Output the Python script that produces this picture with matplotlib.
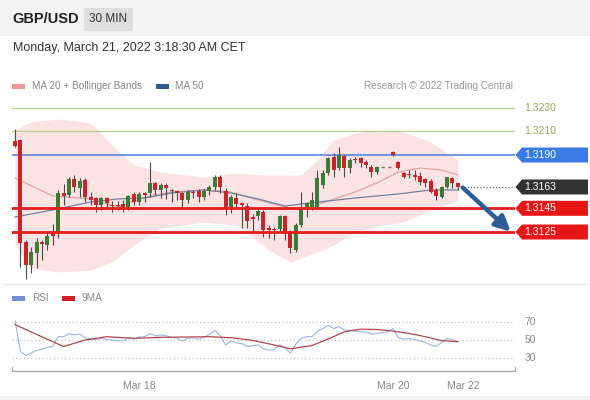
import numpy as np
import matplotlib
matplotlib.use("Agg")
import matplotlib.pyplot as plt
from matplotlib.patches import Rectangle, Polygon, FancyBboxPatch
from matplotlib.lines import Line2D

plt.rcParams['font.family'] = ['Liberation Sans', 'DejaVu Sans']

nan = np.nan
# ---------------- data ----------------
opens = [1.32018, 1.32027, 1.31166, 1.30971, 1.31073, 1.31166, 1.31140, 1.31242, 1.31242, 1.31579,
         1.31562, 1.31697, 1.31621, 1.31689, 1.31545, 1.31537, 1.31478, 1.31537, 1.31478, 1.31478,
         1.31486, 1.31461, 1.31571, 1.31503, 1.31579, 1.31579, 1.31664, 1.31605, 1.31647, 1.31605,
         1.31596, 1.31579, 1.31520, 1.31588, 1.31596, 1.31545, 1.31596, 1.31630, 1.31714, 1.31596,
         1.31461, 1.31537, 1.31495, 1.31469, 1.31377, 1.31385, 1.31419, 1.31284, 1.31275, 1.31275,
         1.31385, 1.31250, 1.31098, 1.31309, 1.31453, 1.31461, 1.31461, 1.31647, 1.31748, 1.31883,
         1.31790, 1.31892, 1.31790, 1.31866, 1.31875, 1.31841, 1.31799, 1.31756, nan, nan,
         1.31925, 1.31841, 1.31748, 1.31740, 1.31731, 1.31723, 1.31697, 1.31681, 1.31605, 1.31545,
         1.31630, 1.31706, 1.31664]
highs = [1.32120, 1.32035, 1.31182, 1.31123, 1.31199, 1.31182, 1.31250, 1.31317, 1.31605, 1.31655,
         1.31714, 1.31731, 1.31706, 1.31706, 1.31588, 1.31545, 1.31545, 1.31545, 1.31512, 1.31512,
         1.31520, 1.31562, 1.31588, 1.31588, 1.31588, 1.31841, 1.31672, 1.31664, 1.31664, 1.31613,
         1.31605, 1.31588, 1.31605, 1.31605, 1.31613, 1.31613, 1.31647, 1.31731, 1.31731, 1.31621,
         1.31562, 1.31579, 1.31503, 1.31495, 1.31402, 1.31453, 1.31436, 1.31309, 1.31292, 1.31393,
         1.31393, 1.31267, 1.31326, 1.31588, 1.31503, 1.31588, 1.31773, 1.31773, 1.31883, 1.31917,
         1.31968, 1.31900, 1.31875, 1.31883, 1.31883, 1.31858, 1.31816, 1.31807, nan, nan,
         1.31934, 1.31849, 1.31756, 1.31773, 1.31773, 1.31756, 1.31706, 1.31697, 1.31621, 1.31638,
         1.31714, 1.31714, 1.31664]
lows = [1.31968, 1.30955, 1.30853, 1.30904, 1.30946, 1.31014, 1.31098, 1.31140, 1.31199, 1.31478,
        1.31545, 1.31588, 1.31545, 1.31503, 1.31478, 1.31419, 1.31436, 1.31453, 1.31419, 1.31436,
        1.31419, 1.31436, 1.31478, 1.31478, 1.31503, 1.31545, 1.31562, 1.31537, 1.31529, 1.31503,
        1.31520, 1.31461, 1.31495, 1.31537, 1.31503, 1.31520, 1.31562, 1.31605, 1.31579, 1.31393,
        1.31410, 1.31461, 1.31284, 1.31284, 1.31258, 1.31351, 1.31208, 1.31199, 1.31182, 1.31250,
        1.31182, 1.31073, 1.31081, 1.31292, 1.31377, 1.31436, 1.31453, 1.31621, 1.31731, 1.31714,
        1.31773, 1.31714, 1.31748, 1.31832, 1.31799, 1.31790, 1.31714, 1.31740, nan, nan,
        1.31892, 1.31782, 1.31706, 1.31706, 1.31689, 1.31647, 1.31630, 1.31579, 1.31520, 1.31537,
        1.31621, 1.31621, 1.31605]
closes = [1.31976, 1.31157, 1.30971, 1.31081, 1.31166, 1.31149, 1.31216, 1.31216, 1.31579, 1.31554,
          1.31697, 1.31630, 1.31681, 1.31545, 1.31520, 1.31478, 1.31537, 1.31495, 1.31469, 1.31469,
          1.31461, 1.31554, 1.31503, 1.31571, 1.31562, 1.31664, 1.31605, 1.31647, 1.31621, 1.31596,
          1.31579, 1.31520, 1.31588, 1.31579, 1.31545, 1.31596, 1.31630, 1.31714, 1.31630, 1.31453,
          1.31545, 1.31486, 1.31478, 1.31343, 1.31360, 1.31427, 1.31267, 1.31267, 1.31267, 1.31385,
          1.31250, 1.31115, 1.31309, 1.31453, 1.31495, 1.31520, 1.31706, 1.31748, 1.31875, 1.31773,
          1.31900, 1.31790, 1.31858, 1.31858, 1.31832, 1.31816, 1.31756, 1.31799, nan, nan,
          1.31900, 1.31790, 1.31714, 1.31731, 1.31714, 1.31672, 1.31664, 1.31588, 1.31554, 1.31630,
          1.31714, 1.31664, 1.31630]

ma20_idx = [0, 7, 14, 19, 25, 29, 35, 40, 45, 50, 53, 58, 63, 67, 71, 75, 79, 82]
ma20_val = [1.31706, 1.31554, 1.31529, 1.31461, 1.31554, 1.31588, 1.31605, 1.31588, 1.31520,
            1.31461, 1.31436, 1.31512, 1.31588, 1.31664, 1.31756, 1.31790, 1.31773, 1.31731]
ma50_idx = [0, 7, 14, 19, 24, 29, 35, 40, 45, 50, 53, 58, 63, 71, 77, 82]
ma50_val = [1.31377, 1.31436, 1.31503, 1.31529, 1.31537, 1.31579, 1.31605, 1.31579, 1.31529,
            1.31469, 1.31486, 1.31512, 1.31537, 1.31571, 1.31605, 1.31605]
bb_idx = [0, 3, 8, 14, 18, 22, 27, 35, 41, 47, 51, 53, 56, 59, 63, 67, 72, 77, 82]
bb_upper = [1.32111, 1.32179, 1.32204, 1.32170, 1.31984, 1.31816, 1.31756, 1.31714, 1.31748,
            1.31731, 1.31731, 1.31731, 1.31858, 1.32027, 1.32086, 1.32111, 1.32094, 1.32010, 1.31858]
bb_lower = [1.31140, 1.30946, 1.30912, 1.30929, 1.30997, 1.31140, 1.31284, 1.31334, 1.31309,
            1.31098, 1.30997, 1.31030, 1.31081, 1.31140, 1.31250, 1.31301, 1.31334, 1.31436, 1.31520]

rsi = [71.4, 37.5, 33.2, 35.7, 38.9, 40.0, 41.8, 43.2, 53.6, 53.6,
       56.8, 55.4, 56.4, 52.5, 51.1, 50.4, 51.8, 50.7, 49.6, 49.3,
       48.9, 52.5, 51.1, 53.2, 53.6, 57.1, 54.6, 55.4, 54.6, 52.9,
       51.8, 48.9, 51.8, 52.5, 50.7, 52.9, 56.1, 60.4, 54.6, 44.6,
       48.9, 46.8, 46.1, 42.9, 43.9, 44.6, 40.4, 38.9, 39.6, 44.6,
       41.8, 35.7, 45.4, 51.8, 53.6, 53.6, 59.6, 62.5, 66.1, 62.5,
       64.6, 60.7, 60.7, 59.6, 58.9, 58.9, 56.4, 57.1, 57.9, 58.6,
       62.5, 52.5, 51.1, 51.4, 50.7, 48.9, 47.5, 44.6, 42.9, 47.5,
       51.8, 50.0, 48.2]
ma9_idx = [0, 4, 9, 13, 17, 22, 27, 31, 36, 40, 44, 48, 51, 55, 58, 61, 64, 67, 70, 73, 76, 79, 82]
ma9_val = [66.8, 56.1, 42.9, 50.0, 53.6, 51.8, 52.9, 53.2, 53.6, 52.5, 49.6, 44.6, 40.4, 44.0,
           51.1, 58.9, 61.8, 61.4, 59.6, 57.1, 53.6, 49.3, 48.2]

resistances = [1.3230, 1.3210]
pivot = 1.3190
last_price = 1.3163
supports = [1.3145, 1.3125]
weekend_close = 1.31799
target = 1.3125

date_ticks = [23, 70, 83]
date_labels = ['Mar 18', 'Mar 20', 'Mar 22']
rsi_levels = [30, 50, 70]

# ---------------- figure ----------------
W, H = 590, 400
fig = plt.figure(figsize=(W / 100, H / 100), dpi=100)
fig.patch.set_facecolor('#f3f3f3')

def fx(x):
    return x / W

def fy(y):
    return 1 - y / H

# white panel
fig.add_artist(Rectangle((fx(0), fy(396)), 1, (396 - 36) / H, transform=fig.transFigure,
                         facecolor='white', edgecolor='none', zorder=0))
# header
fig.text(fx(12), fy(19), 'GBP/USD', fontsize=10.5, fontweight='bold', color='#222222', va='center')
fig.add_artist(FancyBboxPatch((fx(84), fy(31)), 49 / W, 23 / H, boxstyle='round,pad=0,rounding_size=0.004',
                              transform=fig.transFigure, facecolor='#dedede', edgecolor='none'))
fig.text(fx(108.5), fy(19.5), '30 MIN', fontsize=8.5, color='#333333', va='center', ha='center')
fig.text(fx(13), fy(48), 'Monday, March 21, 2022 3:18:30 AM CET', fontsize=9, color='#333333', va='center')

# legend row
fig.add_artist(Rectangle((fx(12), fy(88.5)), 13 / W, 5 / H, transform=fig.transFigure,
                         facecolor='#ef9a9a', edgecolor='none'))
fig.text(fx(32), fy(86), 'MA 20 + Bollinger Bands', fontsize=7.2, color='#888888', va='center')
fig.add_artist(Rectangle((fx(156), fy(88.5)), 13 / W, 5 / H, transform=fig.transFigure,
                         facecolor='#2f5a8c', edgecolor='none'))
fig.text(fx(175), fy(86), 'MA 50', fontsize=7.2, color='#888888', va='center')
fig.text(fx(513), fy(86), 'Research \u00a9 2022 Trading Central', fontsize=7.2, color='#999999',
         va='center', ha='right')

# ---------------- main axes ----------------
x_lo, x_hi = (12 - 15) / 5.4, (515 - 15) / 5.4
y_top, y_bot = 100, 283
p_per_px = 0.00008442
p_hi = 1.3190 + (155 - y_top) * p_per_px
p_lo = 1.3190 - (y_bot - 155) * p_per_px
main_rect = [fx(12), fy(y_bot), (515 - 12) / W, (y_bot - y_top) / H]
ax = fig.add_axes(main_rect)
ax.set_xlim(x_lo, x_hi)
ax.set_ylim(p_lo, p_hi)
ax.axis('off')

ax.fill_between(bb_idx, bb_lower, bb_upper, color='#fce3e3', lw=0, zorder=1)

for r in resistances:
    ax.axhline(r, color='#b9d18f', lw=0.9, zorder=2)
ax.axhline(pivot, color='#4d80dc', lw=1.1, zorder=2)

ax.plot(ma20_idx, ma20_val, color='#e3a3a3', lw=0.9, zorder=3)
ax.plot(ma50_idx, ma50_val, color='#6f82a3', lw=0.9, zorder=3)

green, red = '#3c7a36', '#c8252b'
for i in range(len(opens)):
    o, h, l, c = opens[i], highs[i], lows[i], closes[i]
    if np.isnan(o):
        continue
    col = green if c > o else red
    ax.vlines(i, l, h, color='#4a4a4a', lw=0.8, zorder=4)
    ax.bar(i, max(abs(c - o), 0.00003), bottom=min(o, c), width=0.75, color=col, lw=0, zorder=5)

for s in supports:
    ax.axhline(s, color='#e31e1e', lw=2.0, zorder=6)

ax.hlines(weekend_close, 67.8, 69.7, colors='#8a6a6a', linestyles=(0, (2.5, 2.5)), lw=1, zorder=4)
ax.hlines(last_price, len(opens) - 0.4, x_hi, colors='#666666', linestyles=(0, (1, 1.5)), lw=0.9, zorder=4)

ax.annotate('', xy=(91.8, target + 0.00003), xytext=(82.9, last_price - 0.00005),
            arrowprops=dict(arrowstyle='-|>,head_width=0.45,head_length=0.9', color='#2e5d96', lw=3.2,
                            shrinkA=0, shrinkB=0), zorder=7)

# right-hand labels
axl = fig.add_axes([fx(514), fy(y_bot), (590 - 514) / W, (y_bot - y_top) / H])
axl.set_xlim(514, 590)
axl.set_ylim(p_lo, p_hi)
axl.axis('off')
half = 7.5 * p_per_px
for r in resistances:
    axl.text(524, r, f'{r:.4f}', color='#8fb04f', fontsize=7.5, va='center', ha='left')
boxes = [(pivot, '#3b7be8'), (last_price, '#333333')] + [(s, '#e81616') for s in supports]
for p, col in boxes:
    axl.add_patch(Polygon([(515.5, p), (522, p + half), (588, p + half), (588, p - half), (522, p - half)],
                          closed=True, facecolor=col, edgecolor='none'))
    axl.text(524, p, f'{p:.4f}', color='white', fontsize=7.5, va='center', ha='left')

# separator
fig.add_artist(Line2D([fx(4), fx(586)], [fy(284), fy(284)], color='#e6e6e6', lw=1))

# ---------------- RSI panel ----------------
fig.add_artist(Rectangle((fx(12), fy(300.5)), 13 / W, 5 / H, transform=fig.transFigure,
                         facecolor='#6f90d8', edgecolor='none'))
fig.text(fx(32), fy(298), 'RSI', fontsize=7.2, color='#888888', va='center')
fig.add_artist(Rectangle((fx(62), fy(300.5)), 13 / W, 5 / H, transform=fig.transFigure,
                         facecolor='#cc1f26', edgecolor='none'))
fig.text(fx(82), fy(298), '9MA', fontsize=7.2, color='#888888', va='center')

r_top, r_bot = 305, 371
rax = fig.add_axes([fx(12), fy(r_bot), (515 - 12) / W, (r_bot - r_top) / H])
rax.set_xlim(x_lo, x_hi)
rax.set_ylim(50 - (r_bot - 340) / 0.92, 50 + (340 - r_top) / 0.92)
for s in rax.spines.values():
    s.set_visible(False)
rax.set_yticks([])
for lv in rsi_levels:
    rax.axhline(lv, color='#c4c4c4', lw=0.9, ls=(0, (1, 2)))
    rax.text(94.4, lv, str(lv), fontsize=7.5, color='#888888', va='center', ha='left')
rax.plot(range(len(rsi)), rsi, color='#9db4e8', lw=0.8)
rax.plot(ma9_idx, ma9_val, color='#b0464c', lw=0.9)
rax.set_xticks(date_ticks)
rax.set_xticklabels(date_labels, fontsize=7.5, color='#888888')
rax.tick_params(axis='x', length=0, pad=7)

# bottom axis bracket
fig.add_artist(Line2D([fx(12), fx(12), fx(515), fx(515)], [fy(366.5), fy(371), fy(371), fy(366.5)],
                      color='#aaaaaa', lw=1))

fig.savefig('out.png', dpi=100, facecolor=fig.get_facecolor())
